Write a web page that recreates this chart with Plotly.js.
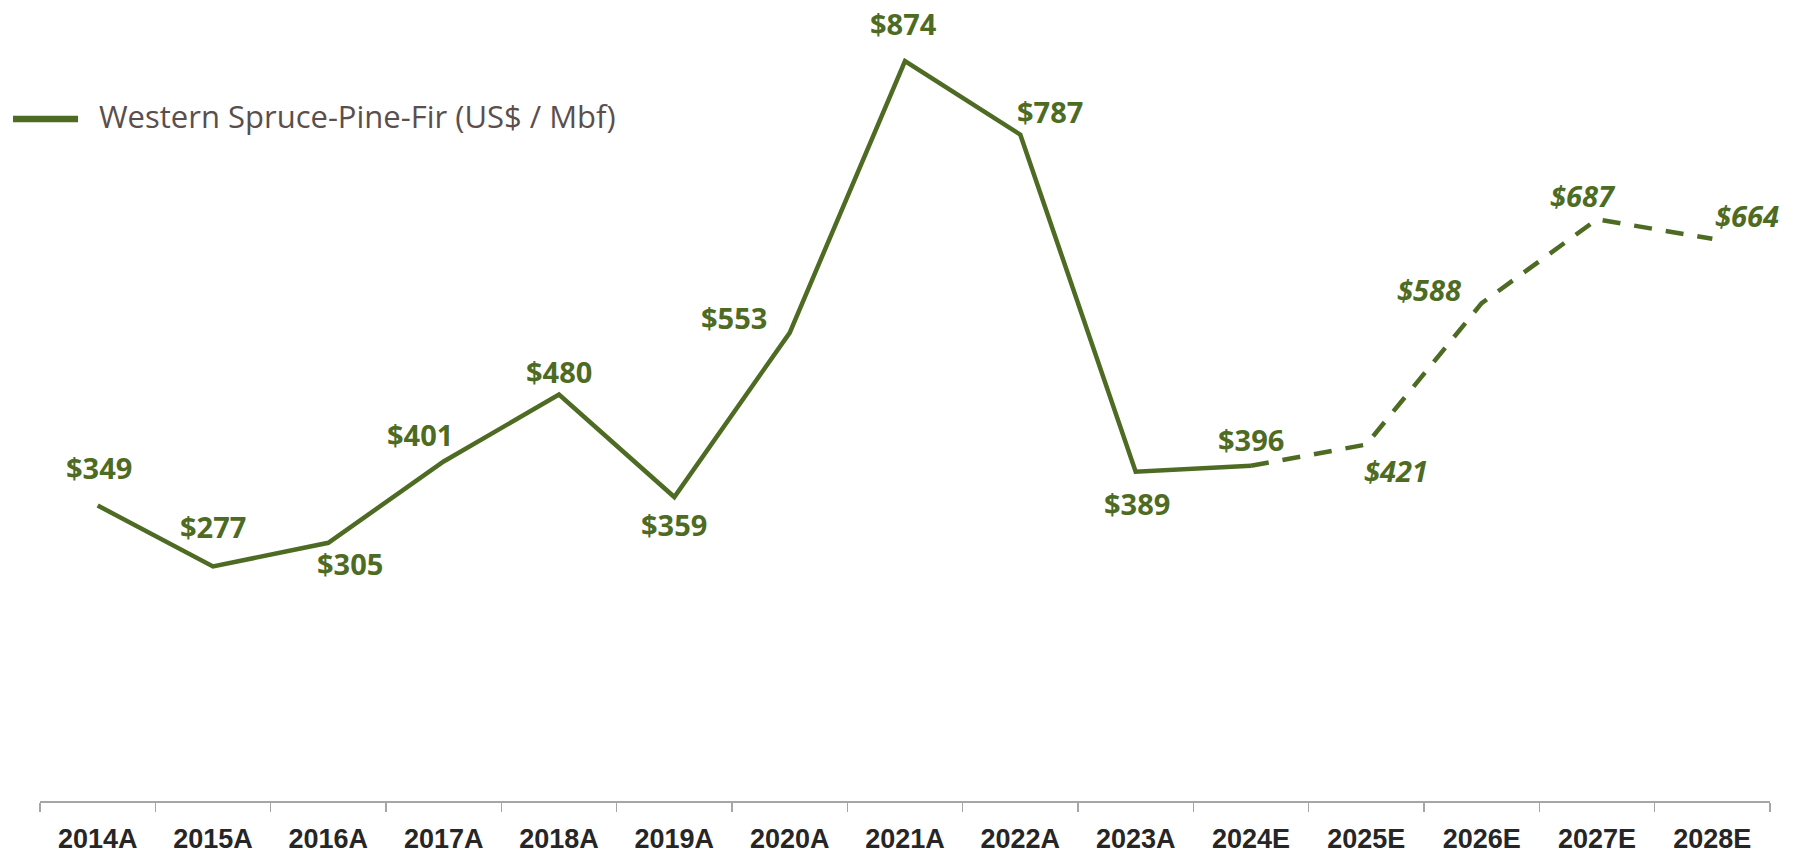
<!DOCTYPE html>
<html>
<head>
<meta charset="utf-8">
<script src="https://cdn.plot.ly/plotly-3.0.1.min.js"></script>
<style>html,body{margin:0;padding:0;background:#fff;}#chart{width:1793px;height:854px;}</style>
</head>
<body>
<div id="chart"></div>
<script>
// ---- data ----
const years = ["2014A","2015A","2016A","2017A","2018A","2019A","2020A","2021A","2022A","2023A","2024E","2025E","2026E","2027E","2028E"];
const prices = [349, 277, 305, 401, 480, 359, 553, 874, 787, 389, 396, 421, 588, 687, 664];
const isEstimate = [false,false,false,false,false,false,false,false,false,false,false,true,true,true,true];
const seriesName = "Western Spruce-Pine-Fir (US$ / Mbf)";
const firstDashedIndex = 10; // dashed line starts at 2024E

// ---- label placement (pixel offsets, layout only) ----
const labelOffsets = [
  [1, 38], [0, 40], [22, -21], [-24, 27], [0, 23], [0, -27], [-56, 15],
  [-2, 38], [30, 23], [1, -32], [0, 26], [30, -26], [-53, 14], [-14, 24], [35, 23]
];

const green = "#4E6B23";

const solidTrace = {
  x: years.slice(0, firstDashedIndex + 1),
  y: prices.slice(0, firstDashedIndex + 1),
  type: "scatter", mode: "lines", name: seriesName,
  line: {color: green, width: 4.5},
  showlegend: false
};
const dashedTrace = {
  x: years.slice(firstDashedIndex),
  y: prices.slice(firstDashedIndex),
  type: "scatter", mode: "lines", name: seriesName,
  line: {color: green, width: 4.5, dash: "18px,14px"},
  showlegend: false
};

const annotations = years.map((yr, i) => ({
  x: yr, y: prices[i], xref: "x", yref: "y",
  text: isEstimate[i] ? "<i>$" + prices[i] + "</i>" : "$" + prices[i],
  showarrow: false,
  xshift: labelOffsets[i][0], yshift: labelOffsets[i][1],
  font: {family: "Open Sans, sans-serif", size: 29, color: green, weight: 700}
}));

// custom legend entry (line sample + text)
annotations.push({
  x: 0.033, y: 0.899, xref: "paper", yref: "paper",
  xanchor: "left", yanchor: "middle", showarrow: false,
  text: seriesName,
  font: {family: "Open Sans, sans-serif", size: 31, color: "#5A4F4C"}
});

const layout = {
  width: 1793, height: 854,
  margin: {l: 40, r: 23, t: 39, b: 53},
  paper_bgcolor: "#fff", plot_bgcolor: "#fff",
  showlegend: false,
  shapes: [{
    type: "line", xref: "paper", yref: "paper",
    x0: -0.0156, x1: 0.0220, y0: 0.895, y1: 0.895,
    line: {color: green, width: 6.5}
  }],
  xaxis: {
    type: "category", range: [-0.5, 14.5],
    showgrid: false, zeroline: false,
    showline: true, linecolor: "#A6A6A6", linewidth: 1.5,
    ticks: "outside", tickson: "boundaries", ticklen: 9, tickcolor: "#A6A6A6", tickwidth: 1.5,
    tickfont: {family: "Liberation Sans Narrow, Arial Narrow, sans-serif", size: 27, color: "#262626", weight: 700},
    ticklabelstandoff: 13,
    fixedrange: true
  },
  yaxis: {
    range: [0, 900], visible: false, showgrid: false, zeroline: false, fixedrange: true
  },
  annotations: annotations
};

Plotly.newPlot("chart", [solidTrace, dashedTrace], layout, {displayModeBar: false, staticPlot: true});
</script>
</body>
</html>
